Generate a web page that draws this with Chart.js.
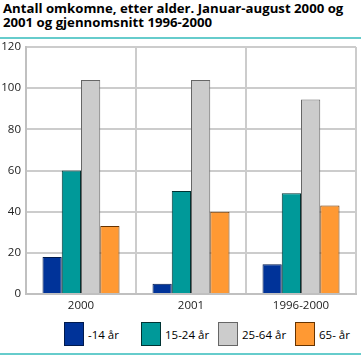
<!DOCTYPE html>
<html><head><meta charset="utf-8">
<script src="https://cdn.jsdelivr.net/npm/chart.js@4/dist/chart.umd.min.js"></script>
<style>
body{margin:0;background:#fff;}
#wrap{position:relative;width:361px;height:355px;overflow:hidden;font-family:"Open Sans",sans-serif;}
#title{position:absolute;left:3px;top:1px;font-weight:bold;font-size:13.2px;line-height:14px;color:#000;white-space:nowrap;}
.rule{position:absolute;left:0;width:361px;height:2px;background:#66CCCC;}
#cvbox{position:absolute;left:0;top:0;width:361px;height:315px;}
#legend{position:absolute;top:322px;left:64px;display:flex;font-size:11.5px;color:#000;}
.item{display:flex;align-items:center;width:77px;}
.box{width:20px;height:24px;box-sizing:border-box;border:1px solid;margin-right:4px;}
</style></head>
<body>
<div id="wrap">
  <div id="title">Antall omkomne, etter alder. Januar-august 2000 og<br>2001 og gjennomsnitt 1996-2000</div>
  <div class="rule" style="top:37px"></div>
  <div id="cvbox"><canvas id="c"></canvas></div>
  <div id="legend"></div>
  <div class="rule" style="top:353px"></div>
</div>
<script>
const categories = ["2000", "2001", "1996-2000"];
const seriesNames = ["-14 år", "15-24 år", "25-64 år", "65- år"];
const under14 = [18, 5, 14.5];
const age15to24 = [60, 50, 49];
const age25to64 = [104, 104, 94.5];
const age65plus = [33, 40, 43];
const yTicks = [0, 20, 40, 60, 80, 100, 120];

const fills = ["#003399", "#009999", "#CCCCCC", "#FF9933"];
const borders = ["#001A4D", "#003333", "#666666", "#663300"];
const values = [under14, age15to24, age25to64, age65plus];

const datasets = seriesNames.map((n, i) => ({
  label: n, data: values[i], backgroundColor: fills[i], borderColor: borders[i],
  borderWidth: 1, categoryPercentage: 0.7, barPercentage: 1.0
}));

const leg = document.getElementById('legend');
datasets.forEach(d => {
  const it = document.createElement('div'); it.className = 'item';
  const b = document.createElement('div'); b.className = 'box';
  b.style.background = d.backgroundColor; b.style.borderColor = d.borderColor;
  const t = document.createElement('span'); t.textContent = d.label;
  it.appendChild(b); it.appendChild(t); leg.appendChild(it);
});

new Chart(document.getElementById('c'), {
  type: 'bar',
  data: { labels: categories, datasets },
  options: {
    responsive: true, maintainAspectRatio: false, animation: false,
    layout: { padding: { top: 47, right: 5, left: 0, bottom: 0 } },
    plugins: { legend: { display: false }, title: { display: false }, tooltip: { enabled: false } },
    scales: {
      x: {
        grid: { color: '#CCCCCC', lineWidth: 2, offset: true, drawTicks: false },
        border: { color: '#C0C0C0', width: 2 },
        ticks: { color: '#222', font: { family: 'Open Sans', size: 11.5 }, padding: 5 },
        afterFit: s => { s.height = 21; }
      },
      y: {
        min: 0, max: 120,
        afterBuildTicks: s => { s.ticks = yTicks.map(v => ({ value: v })); },
        grid: { color: '#CCCCCC', lineWidth: 2, drawTicks: false },
        border: { color: '#C0C0C0', width: 2 },
        ticks: { color: '#222', font: { family: 'Open Sans', size: 11.5 }, padding: 5 },
        afterFit: s => { s.width = 26; }
      }
    }
  }
});
</script>
</body></html>
